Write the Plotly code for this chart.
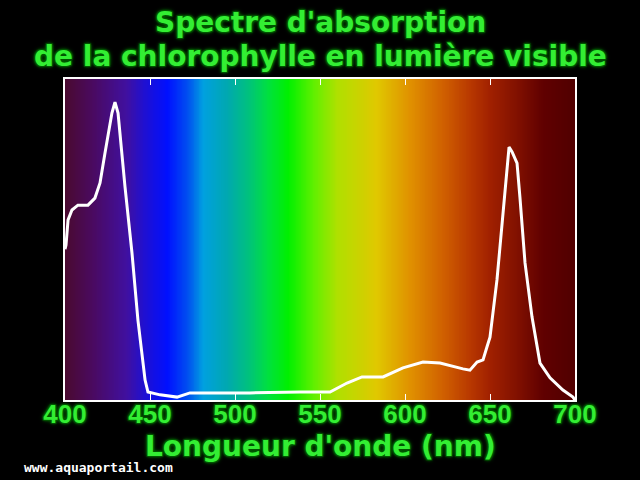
import plotly.graph_objects as go
import numpy as np

# Absorption spectrum of chlorophyll
wavelength = [400, 400.6, 401.8, 404.1, 407.6, 413.5, 417.6, 420.6, 423.5, 427.6, 429.4,
              431.2, 435.3, 439.4, 442.9, 447.1, 448.8, 455.9, 465.9, 473.5, 485.3,
              508.8, 538.2, 555.9, 565.9, 574.7, 587.1, 598.8, 610.6, 620.6, 634.1,
              638.2, 642.4, 645.9, 648.2, 650.0, 654.1, 657.6, 660.0, 661.2, 663.0,
              665.9, 667.6, 670.6, 674.7, 679.4, 685.3, 692.9, 698.8, 700]
absorbance = [0.47, 0.483, 0.561, 0.592, 0.607, 0.607, 0.629, 0.676, 0.769, 0.894, 0.928,
              0.894, 0.664, 0.458, 0.249, 0.062, 0.025, 0.016, 0.009, 0.022, 0.022,
              0.022, 0.025, 0.025, 0.053, 0.072, 0.072, 0.100, 0.118, 0.115, 0.097,
              0.093, 0.118, 0.125, 0.165, 0.196, 0.374, 0.583, 0.738, 0.788, 0.773,
              0.738, 0.632, 0.427, 0.259, 0.115, 0.069, 0.031, 0.009, 0.0]

tick_vals = [400, 450, 500, 550, 600, 650, 700]
tick_text = ["400", "450", "500", "550", "600", "650", "700"]

# Visible spectrum colours (background)
spec_nm = [400, 416, 436, 446, 460, 472, 481, 495, 507, 519, 531, 546, 560, 583,
           603, 622, 638, 650, 666, 681, 700]
spec_col = ["#4a0a30", "#4a0a60", "#4010a0", "#2010d0", "#0010ff", "#0050f0", "#00a0e0",
            "#00a8b0", "#00c080", "#00e040", "#00f000", "#60f000", "#b0e000", "#e0c800",
            "#e09000", "#d06000", "#b83800", "#a02000", "#801000", "#600000", "#500000"]

colorscale = [[(n - 400) / 300, c] for n, c in zip(spec_nm, spec_col)]
grid = np.linspace(400, 700, 301)

fig = go.Figure()
fig.add_trace(go.Heatmap(x=grid, y=[0, 1], z=[grid, grid], colorscale=colorscale,
                         zmin=400, zmax=700, showscale=False, zsmooth="best",
                         hoverinfo="skip"))
fig.add_trace(go.Scatter(x=wavelength, y=absorbance, mode="lines",
                         line=dict(color="white", width=3), hoverinfo="skip"))

green = "#33ee33"
shadow = ("1px 1px 1px #005500, -1px -1px 1px #005500, 1px -1px 1px #005500, "
          "-1px 1px 1px #005500, 0 0 4px #00aa00")

L, R, T, B = 65, 65, 79, 80
W, H = 640, 480
pw, ph = W - L - R, H - T - B


def py2paper(py):
    return (H - B - py) / ph


def px2paper(px):
    return (px - L) / pw


fig.update_layout(
    width=W, height=H,
    paper_bgcolor="black", plot_bgcolor="black",
    margin=dict(l=L, r=R, t=T, b=B),
    showlegend=False,
    xaxis=dict(range=[400, 700], tickvals=tick_vals, ticktext=tick_text,
               ticks="inside", ticklen=6, tickwidth=1, tickcolor="white",
               showline=True, linecolor="white", linewidth=2, mirror="ticks",
               showgrid=False, zeroline=False, ticklabelstandoff=-10,
               tickfont=dict(family="Liberation Sans", size=26, color=green,
                             weight="bold", shadow=shadow)),
    yaxis=dict(range=[0, 1], showticklabels=False, ticks="",
               showline=True, linecolor="white", linewidth=2, mirror=True,
               showgrid=False, zeroline=False),
    annotations=[
        dict(text="Spectre d'absorption", x=0.5, y=py2paper(22), xref="paper",
             yref="paper", xanchor="center", yanchor="middle", showarrow=False,
             font=dict(family="DejaVu Sans", size=28, color=green,
                       weight="bold", shadow=shadow)),
        dict(text="de la chlorophylle en lumière visible", x=0.5, y=py2paper(56),
             xref="paper", yref="paper", xanchor="center", yanchor="middle",
             showarrow=False,
             font=dict(family="DejaVu Sans", size=28, color=green, weight="bold",
                       shadow=shadow)),
        dict(text="Longueur d'onde (nm)", x=0.5, y=py2paper(447), xref="paper",
             yref="paper", xanchor="center", yanchor="middle", showarrow=False,
             font=dict(family="DejaVu Sans", size=28, color=green,
                       weight="bold", shadow=shadow)),
        dict(text="www.aquaportail.com", x=px2paper(22), y=py2paper(467),
             xref="paper", yref="paper", xanchor="left", yanchor="middle",
             showarrow=False,
             font=dict(family="DejaVu Sans Mono", size=13, color="white",
                       weight="bold")),
    ],
)

fig.write_html("out.html", config={"displayModeBar": False},
               post_script="document.body.style.margin='0';"
                           "document.body.style.background='black';")
